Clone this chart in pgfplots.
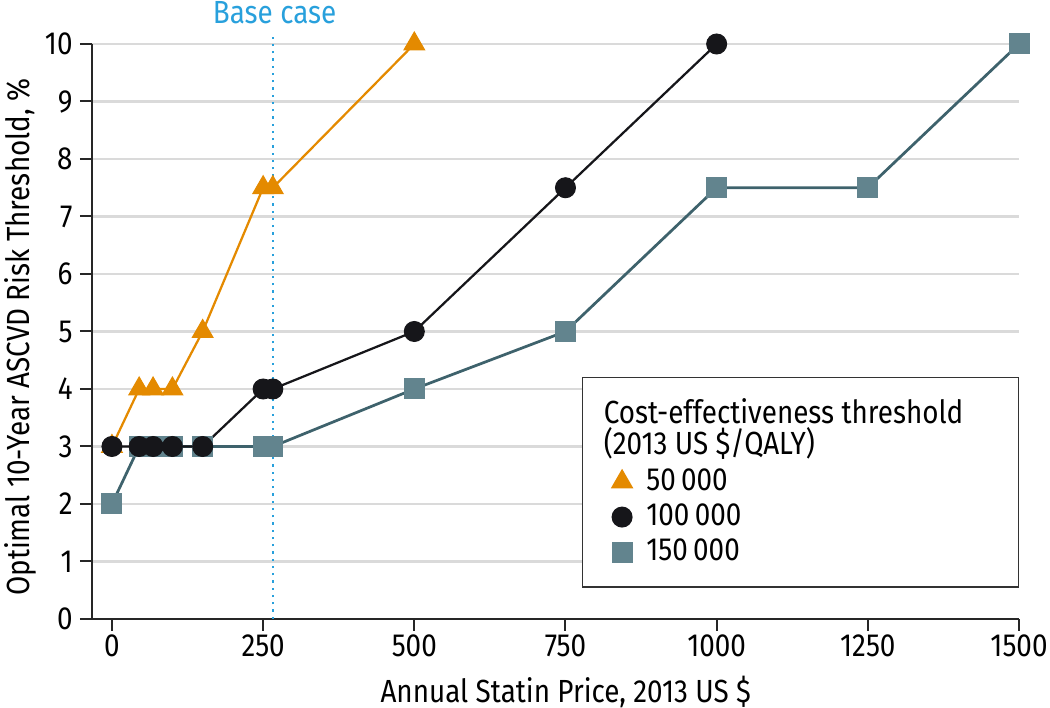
\documentclass[border=0pt]{standalone}
\usepackage{pgfplots}
\pgfplotsset{compat=1.18}
\usepackage{fontspec}
\setmainfont{Fira Sans}[FakeStretch=0.87]
\definecolor{cOrange}{RGB}{228,138,0}
\definecolor{cBlack}{RGB}{22,22,26}
\definecolor{cTeal}{RGB}{98,132,142}
\definecolor{cTealLine}{RGB}{62,98,108}
\definecolor{cBlue}{RGB}{40,160,220}
\definecolor{cGrid}{RGB}{218,218,218}
\begin{document}
\fontsize{12.8}{15}\selectfont
\begin{tikzpicture}
\begin{axis}[
 at={(0pt,0pt)}, anchor=south west,
 scale only axis, width=370.8pt, height=230pt,
 xmin=-33, xmax=1500, ymin=0, ymax=10,
 axis lines=left, axis line style={-, line width=0.8pt, black!85},
 xtick={0,250,...,1500}, ytick={0,...,10},
 tick align=outside, major tick length=4.8pt,
 tick style={line width=0.8pt, black!85},
 ymajorgrids, grid style={cGrid, line width=0.9pt},
 /pgf/number format/assume math mode=true,
 /pgf/number format/1000 sep={},
 ticklabel style={font=\fontsize{12.8}{15}\selectfont},
 yticklabel style={xshift=1.5pt},
 xticklabel style={yshift=2.8pt},
 label style={font=\fontsize{12.8}{15}\selectfont},
 xlabel={Annual Statin Price, 2013 US \$},
 xlabel style={at={(axis description cs:0.511,-0.127)}, anchor=center, inner sep=0pt},
 ylabel={Optimal 10-Year ASCVD Risk Threshold, \%},
 ylabel style={at={(axis description cs:-0.0777,0.49)}, anchor=center, inner sep=0pt},
 clip=false,
 legend image code/.code={\path (0pt,0pt) (12pt,0pt); \draw[#1] plot coordinates {(4.6pt,0pt)};},
 legend style={at={(rel axis cs:1,0.421)}, anchor=north east,
   draw=black!80, line width=0.6pt, font=\fontsize{12.8}{15}\selectfont,
   legend cell align=left, inner xsep=11pt, inner ysep=6.5pt, row sep=-0.5pt},
]
% legend
\addlegendimage{empty legend}
\addlegendentry{\hspace{-17pt}Cost-effectiveness threshold\kern9pt\null}
\addlegendimage{empty legend}
\addlegendentry{\hspace{-17pt}\raisebox{0pt}[\dimexpr\height-3.8pt][\dimexpr\depth+4pt]{(2013 US \$/QALY)}}
\addlegendimage{only marks, mark=triangle*, mark size=4.6pt, color=cOrange}
\addlegendentry{50\,000}
\addlegendimage{only marks, mark=*, mark size=3.9pt, color=cBlack}
\addlegendentry{100\,000}
\addlegendimage{only marks, mark=square*, mark size=3.9pt, color=cTeal}
\addlegendentry{150\,000}
% base case
\addplot[forget plot, cBlue, dotted, line width=0.9pt] coordinates {(266,0) (266,10.2)};
\node[cBlue, anchor=base, inner sep=0pt] at (axis description cs:0.197,1.0348) {Base case};
% series
\addplot[forget plot, cTealLine, line width=1.1pt, mark=square*, mark size=4pt,
  mark options={fill=cTeal, draw=cTeal, line width=0.4pt}] coordinates {
 (0,2) (45,3) (68,3) (100,3) (150,3) (250,3) (266,3) (500,4) (750,5) (1000,7.5) (1250,7.5) (1500,10)};
\addplot[forget plot, cOrange, line width=0.9pt, mark=triangle*, mark size=4.8pt,
  mark options={line width=0.4pt}] coordinates {
 (0,3) (45,4) (68,4) (100,4) (150,5) (250,7.5) (266,7.5) (500,10)};
\addplot[forget plot, cBlack, line width=0.9pt, mark=*, mark size=4pt,
  mark options={line width=0.4pt}] coordinates {
 (0,3) (45,3) (68,3) (100,3) (150,3) (250,4) (266,4) (500,5) (750,7.5) (1000,10)};
\end{axis}
\pgfresetboundingbox
\path[use as bounding box] (-36.8pt,-35.6pt) rectangle (383.2pt,247.6pt);
\end{tikzpicture}
\end{document}
